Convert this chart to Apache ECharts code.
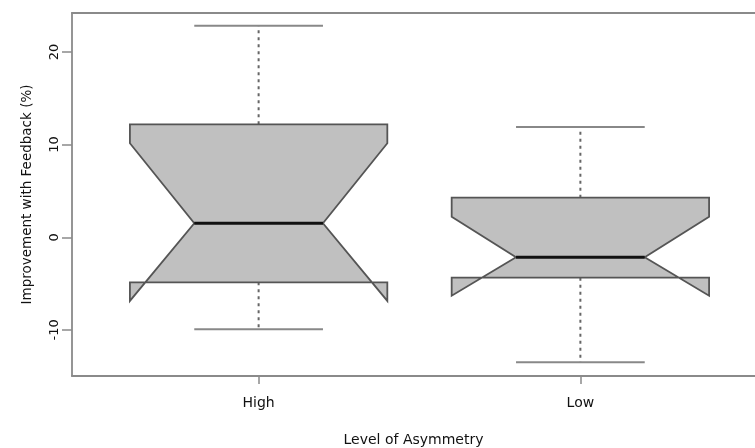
<!DOCTYPE html>
<html>
<head>
<meta charset="utf-8">
<script src="https://cdn.jsdelivr.net/npm/echarts@6/dist/echarts.min.js"></script>
<style>html,body{margin:0;padding:0;background:#fff}#c{width:755px;height:448px}</style>
</head>
<body>
<div id="c"></div>
<script>
// Categories and box statistics
var categories = ['High', 'Low'];
var lowerWhisker = [-9.93, -13.49];
var lowerNotch   = [-6.87, -6.30];
var lowerHinge   = [-4.86, -4.36];
var medians      = [1.51, -2.16];
var upperHinge   = [12.19, 4.27];
var upperNotch   = [10.14, 2.22];
var upperWhisker = [22.83, 11.90];
var yTicks = [-10, 0, 10, 20];
var xTitle = 'Level of Asymmetry';
var yTitle = 'Improvement with Feedback (%)';

var data = categories.map(function (c, i) {
  return [i + 1, lowerWhisker[i], lowerNotch[i], lowerHinge[i], medians[i], upperHinge[i], upperNotch[i], upperWhisker[i]];
});

var FONT = 'DejaVu Sans';
var chart = echarts.init(document.getElementById('c'), null, {renderer: 'canvas'});

function renderItem(params, api) {
  var x = api.value(0);
  var lw = api.value(1), nl = api.value(2), q1 = api.value(3), md = api.value(4),
      q3 = api.value(5), nh = api.value(6), uw = api.value(7);
  var bw = 0.4, nw = 0.2, cw = 0.2;
  function p(dx, v) { return api.coord([x + dx, v]); }
  var children = [];
  children.push({type: 'line', shape: {x1: p(0, q3)[0], y1: p(0, q3)[1], x2: p(0, uw)[0], y2: p(0, uw)[1]},
    style: {stroke: '#666', lineWidth: 2, lineDash: [3, 4]}});
  children.push({type: 'line', shape: {x1: p(0, q1)[0], y1: p(0, q1)[1], x2: p(0, lw)[0], y2: p(0, lw)[1]},
    style: {stroke: '#666', lineWidth: 2, lineDash: [3, 4]}});
  var pts = [p(-bw, q1), p(-bw, nl), p(-nw, md), p(-bw, nh), p(-bw, q3),
             p(bw, q3), p(bw, nh), p(nw, md), p(bw, nl), p(bw, q1)];
  children.push({type: 'polygon', shape: {points: pts},
    style: {fill: '#c0c0c0', stroke: '#555', lineWidth: 1.8, lineJoin: 'miter'}});
  children.push({type: 'line', shape: {x1: p(-nw, md)[0], y1: p(-nw, md)[1], x2: p(nw, md)[0], y2: p(nw, md)[1]},
    style: {stroke: '#111', lineWidth: 3}});
  children.push({type: 'line', shape: {x1: p(-cw, uw)[0], y1: p(-cw, uw)[1], x2: p(cw, uw)[0], y2: p(cw, uw)[1]},
    style: {stroke: '#888', lineWidth: 2}});
  children.push({type: 'line', shape: {x1: p(-cw, lw)[0], y1: p(-cw, lw)[1], x2: p(cw, lw)[0], y2: p(cw, lw)[1]},
    style: {stroke: '#888', lineWidth: 2}});
  return {type: 'group', children: children};
}

// plot region spans 72..767 px for x from 0.42 to 2.58; canvas ends at 755
var X_MIN = 0.42;
var X_MAX = 0.42 + (755 - 72) * (2.16 / (767 - 72));

chart.setOption({
  animation: false,
  backgroundColor: '#fff',
  grid: {left: 72, right: 0, top: 13, bottom: 72, show: false, containLabel: false, outerBoundsMode: 'none'},
  xAxis: [{
    type: 'value', min: X_MIN, max: X_MAX,
    splitLine: {show: false},
    axisLine: {show: true, onZero: false, lineStyle: {color: '#8a8a8a', width: 1.8}},
    axisTick: {show: true, length: 8, lineStyle: {color: '#8a8a8a', width: 1.5}, customValues: [1, 2]},
    axisLabel: {show: true, customValues: [1, 2], margin: 20, color: '#111', fontFamily: FONT, fontSize: 14,
      formatter: function (v) { return categories[Math.round(v) - 1] || ''; }},
    name: xTitle, nameLocation: 'middle', nameGap: 57,
    nameTextStyle: {color: '#111', fontFamily: FONT, fontSize: 14}
  }, {
    type: 'value', position: 'top', min: X_MIN, max: X_MAX,
    splitLine: {show: false},
    axisLine: {show: true, onZero: false, lineStyle: {color: '#8a8a8a', width: 1.8}},
    axisTick: {show: false}, axisLabel: {show: false}
  }],
  yAxis: {
    type: 'value', min: -14.97, max: 24.2,
    splitLine: {show: false},
    axisLine: {show: true, onZero: false, lineStyle: {color: '#8a8a8a', width: 1.8}},
    axisTick: {show: true, length: 10, lineStyle: {color: '#8a8a8a', width: 1.5}, customValues: yTicks},
    axisLabel: {show: true, customValues: yTicks, rotate: 90, margin: 11, color: '#111', fontFamily: FONT, fontSize: 13},
    name: yTitle, nameLocation: 'middle', nameGap: 38, nameRotate: 90,
    nameTextStyle: {color: '#111', fontFamily: FONT, fontSize: 13.5}
  },
  series: [{
    type: 'custom',
    renderItem: renderItem,
    encode: {x: 0, y: [1, 2, 3, 4, 5, 6, 7]},
    data: data,
    clip: false
  }]
});
</script>
</body>
</html>
